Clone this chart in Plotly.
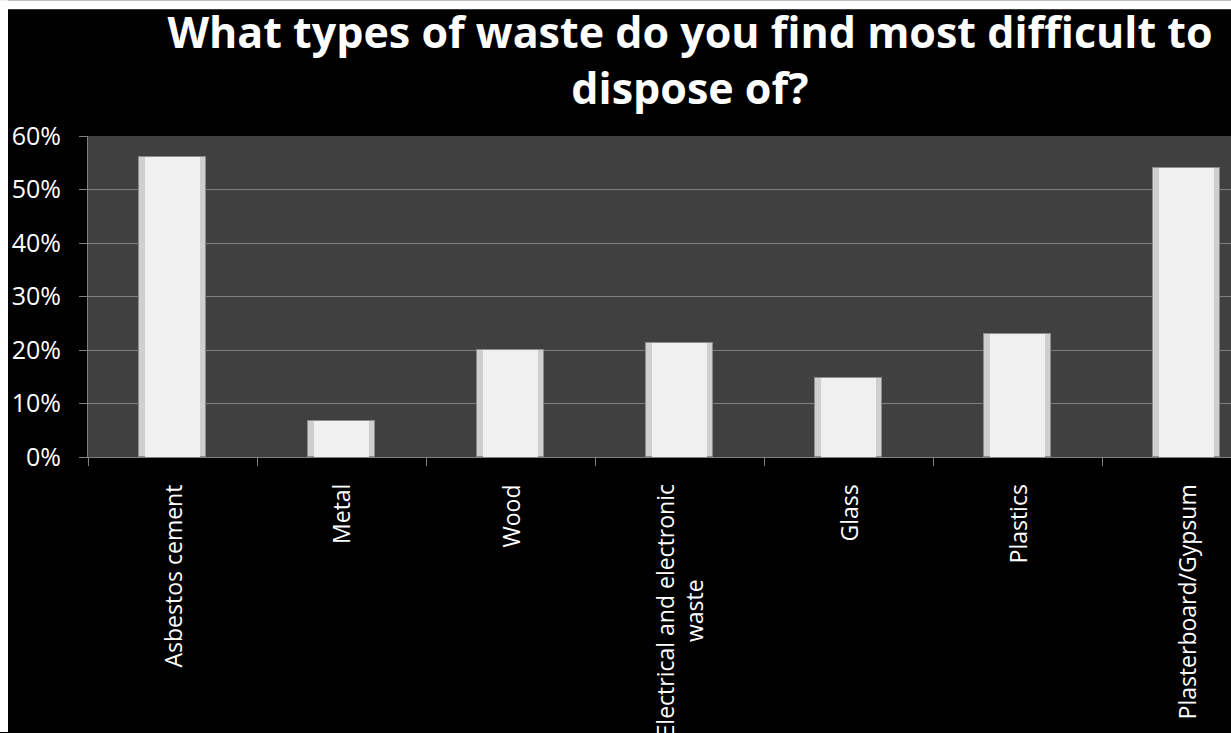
import plotly.graph_objects as go

categories = ["Asbestos cement", "Metal", "Wood", "Electrical and electronic<br>waste",
              "Glass", "Plastics", "Plasterboard/Gypsum"]
values = [56.0, 6.7, 20.0, 21.3, 14.7, 23.0, 54.0]
y_ticks = [0, 10, 20, 30, 40, 50, 60]
y_tick_labels = ["0%", "10%", "20%", "30%", "40%", "50%", "60%"]
title_text = "What types of waste do you find most difficult to<br>dispose of?"

W, H = 1231, 733
L, T, B = 88, 136, 733 - 457.5
plot_w = W - L
plot_h = H - T - B

fig = go.Figure()
fig.add_trace(go.Bar(x=categories, y=values, width=0.40,
                     marker=dict(color="#cfcfcf", line=dict(color="#8c8c8c", width=1)),
                     hoverinfo="skip"))
fig.add_trace(go.Bar(x=categories, y=values, width=0.33,
                     marker=dict(color="#f0f0f0", line=dict(width=0)),
                     hoverinfo="x+y"))

# category-axis labels, rotated, centred multi-line like the original
for c in categories:
    fig.add_annotation(x=c, xref="x", y=-(483 - 457.5) / plot_h, yref="paper",
                       text=c, textangle=-90, showarrow=False,
                       xanchor="center", yanchor="top", align="center",
                       font=dict(family="Open Sans", size=23, color="white"))

# white strips on the top and left border of the original picture
fig.add_shape(type="rect", xref="paper", yref="paper",
              x0=-L / plot_w, x1=-(L - 8) / plot_w, y0=-B / plot_h, y1=(plot_h + T) / plot_h,
              fillcolor="white", line=dict(width=0), layer="above")
fig.add_shape(type="rect", xref="paper", yref="paper",
              x0=-L / plot_w, x1=1.0, y0=(plot_h + T - 9) / plot_h, y1=(plot_h + T) / plot_h,
              fillcolor="white", line=dict(width=0), layer="above")

fig.update_layout(
    width=W, height=H,
    margin=dict(l=L, r=0, t=T, b=B),
    paper_bgcolor="black", plot_bgcolor="#404040",
    barmode="overlay", showlegend=False, bargap=0,
    title=dict(text=title_text, xref="container", x=690 / W, xanchor="center",
               yref="container", y=1 - 48 / H, yanchor="top",
               font=dict(family="Open Sans", size=43, color="white", weight="bold")),
    xaxis=dict(range=[-0.5, -0.5 + plot_w / 169.0], showticklabels=False,
               ticks="outside", ticklen=8, tickcolor="#808080", tickson="boundaries",
               showline=True, linecolor="#808080", linewidth=1, showgrid=False,
               zeroline=False),
    yaxis=dict(range=[0, 60], tickvals=y_ticks, ticktext=y_tick_labels,
               ticks="outside", ticklen=8, tickcolor="#808080",
               showline=True, linecolor="#808080", linewidth=1,
               gridcolor="#808080", gridwidth=1, zeroline=False,
               ticklabelstandoff=13,
               tickfont=dict(family="Open Sans", size=25, color="white")),
)

fig.write_html("out.html")
